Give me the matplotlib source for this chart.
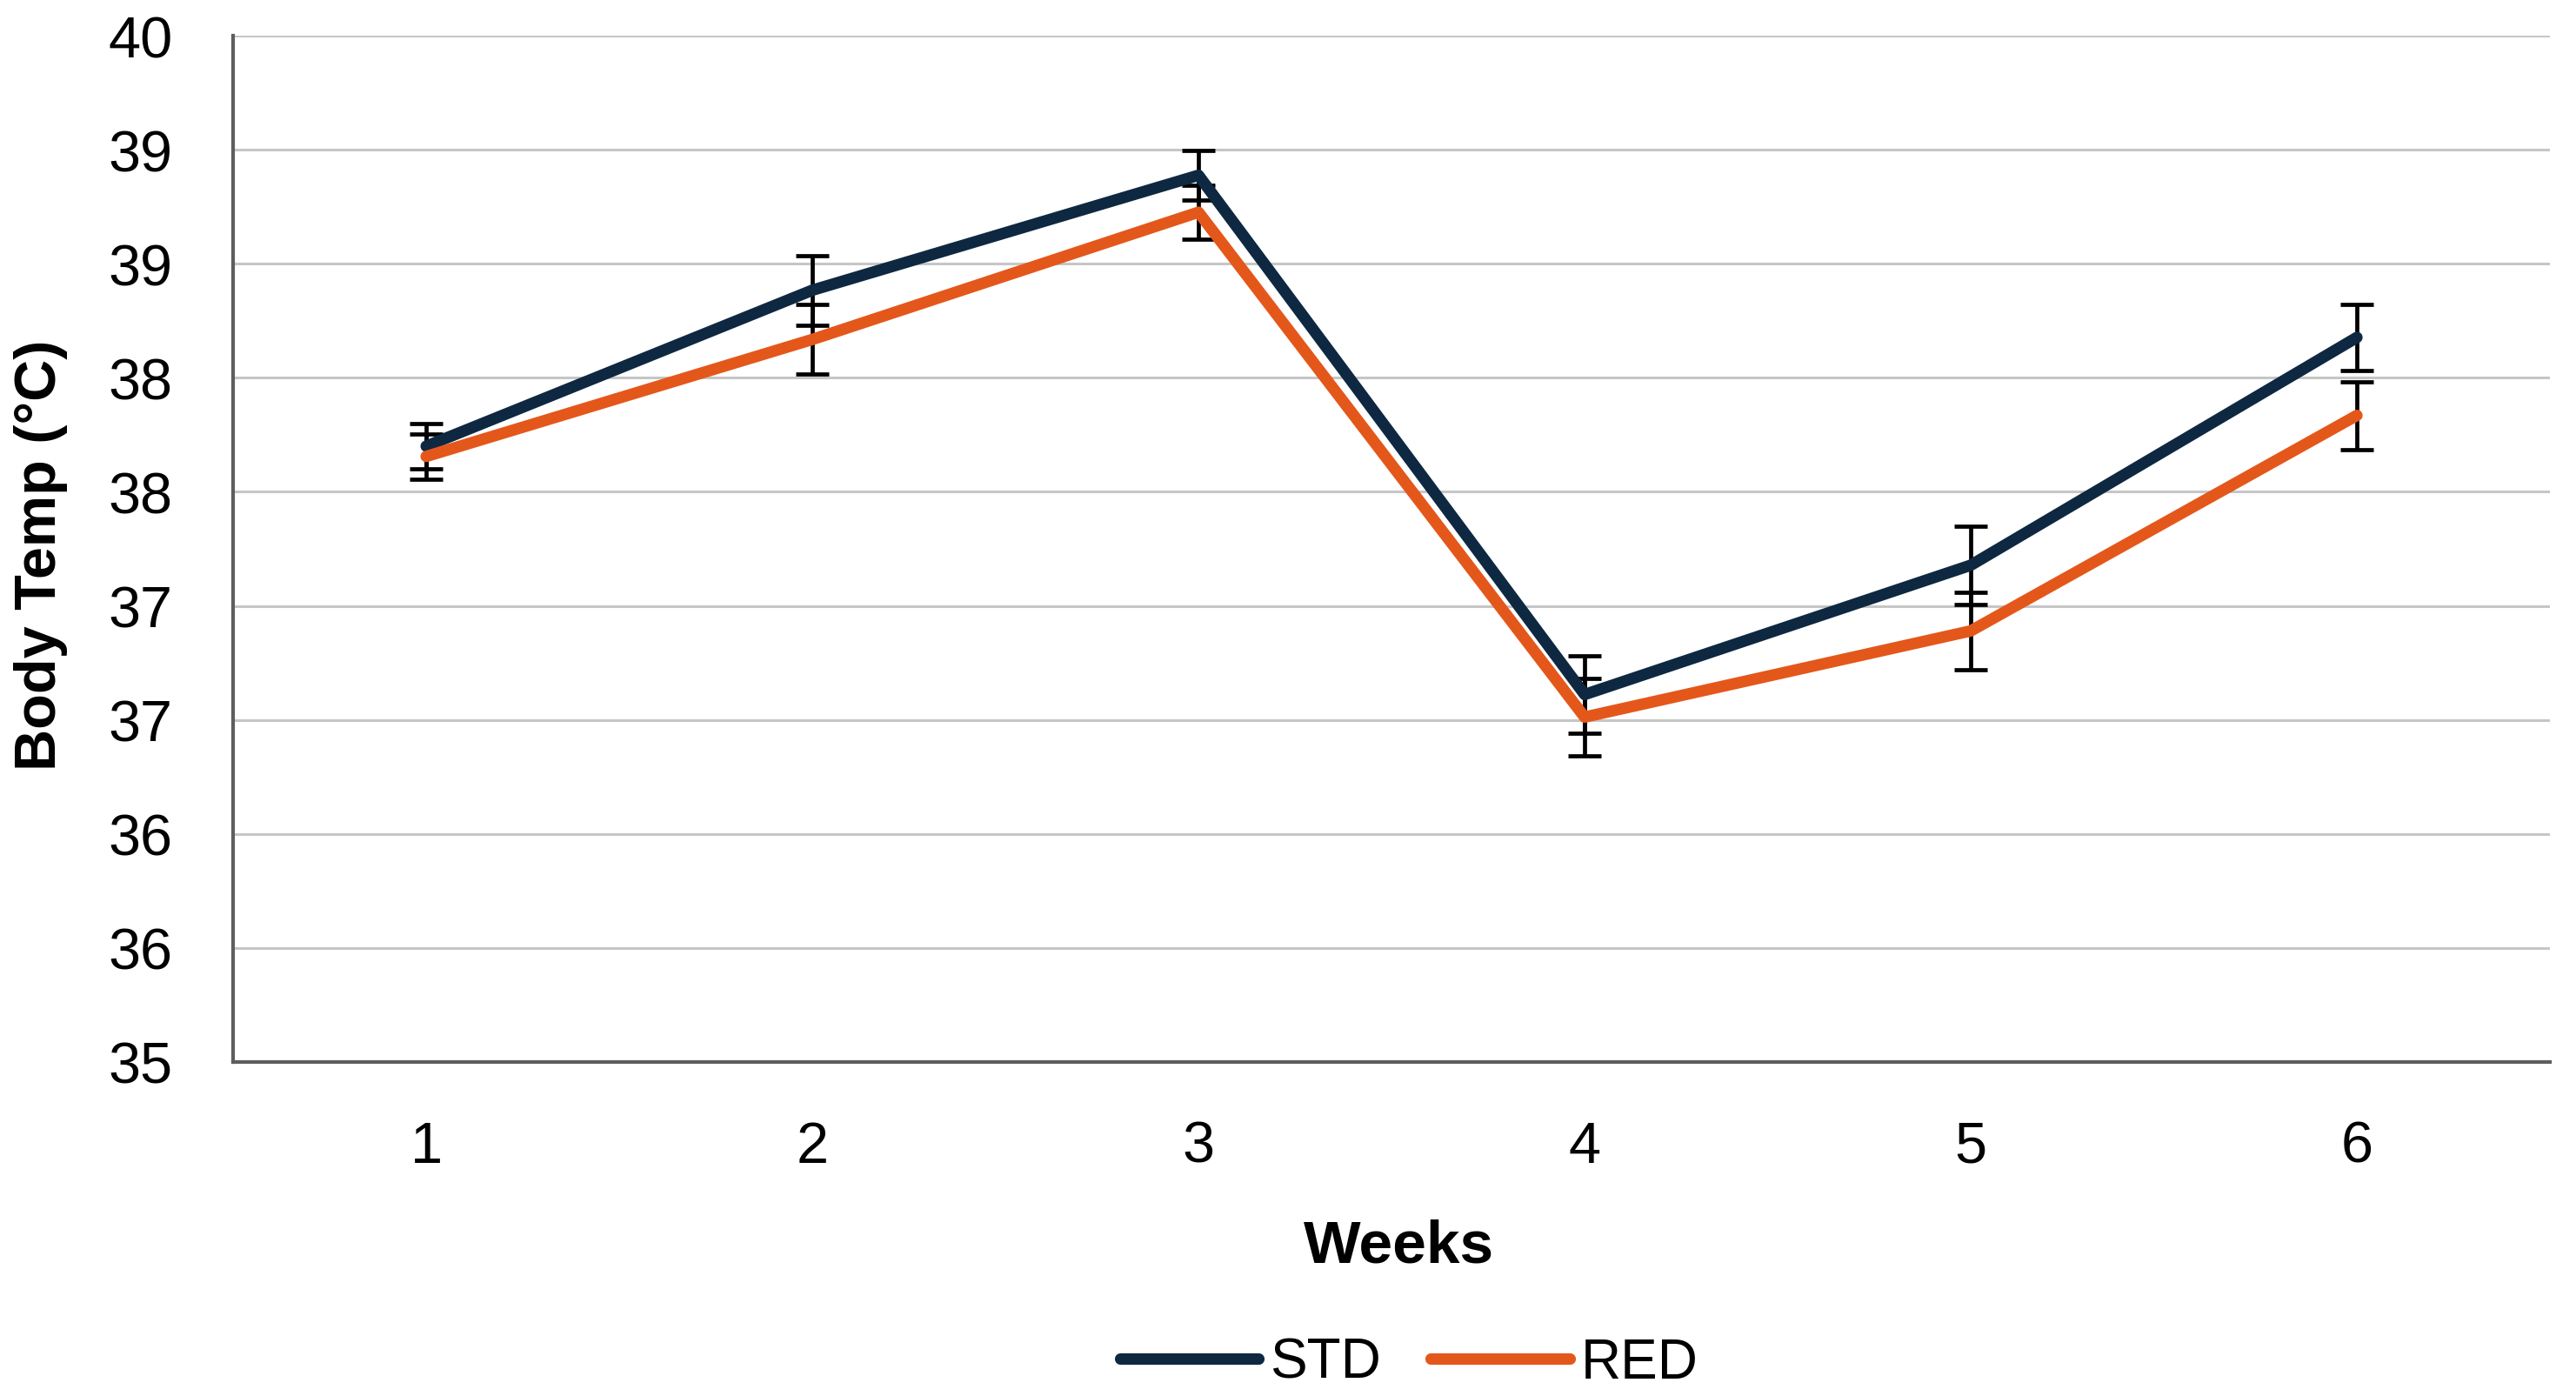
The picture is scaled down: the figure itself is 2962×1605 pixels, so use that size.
import numpy as np
import matplotlib
matplotlib.use('Agg')
from matplotlib import pyplot as plt

# values
weeks = [1, 2, 3, 4, 5, 6]
std_mean = [38.00, 38.76, 39.32, 36.79, 37.42, 38.53]
std_err = [0.11, 0.17, 0.12, 0.19, 0.19, 0.16]
red_mean = [37.95, 38.52, 39.14, 36.68, 37.10, 38.15]
red_err = [0.11, 0.17, 0.13, 0.19, 0.19, 0.165]
ytick_labels = ['35', '36', '36', '37', '37', '38', '38', '39', '39', '40']

std_color = '#0E2841'
red_color = '#E4571B'

plt.rcParams['font.family'] = ['Liberation Sans', 'DejaVu Sans']

fig = plt.figure(figsize=(29.62, 16.06), dpi=100)
ax = fig.add_axes([0.0905, 0.2392, 0.8994, 0.7346])

# error bars sit under the lines
ax.errorbar(weeks, std_mean, yerr=std_err, fmt='none', ecolor='black',
            elinewidth=3.4, capsize=13.5, capthick=3.4, zorder=2)
ax.errorbar(weeks, red_mean, yerr=red_err, fmt='none', ecolor='black',
            elinewidth=3.4, capsize=13.5, capthick=3.4, zorder=2)

ax.plot(weeks, std_mean, color=std_color, lw=9.5, label='STD',
        solid_capstyle='round', solid_joinstyle='round', zorder=3)
ax.plot(weeks, red_mean, color=red_color, lw=9.5, label='RED',
        solid_capstyle='round', solid_joinstyle='round', zorder=4)

ax.set_xlim(0.5, 6.5)
ax.set_ylim(35, 40)
yticks = np.linspace(35, 40, len(ytick_labels))
ax.set_yticks(yticks)
ax.set_yticklabels(ytick_labels)
ax.set_xticks(weeks)
ax.set_xticklabels([str(w) for w in weeks])
ax.tick_params(axis='both', length=0, labelsize=48)
ax.tick_params(axis='y', pad=50)
ax.tick_params(axis='x', pad=48)

ax.grid(axis='y', color='#C6C6C6', lw=2.2)
ax.set_axisbelow(True)
for s in ['top', 'right']:
    ax.spines[s].set_visible(False)
ax.spines['left'].set_color('#5E5E5E')
ax.spines['left'].set_linewidth(3.0)
ax.spines['bottom'].set_color('#5E5E5E')
ax.spines['bottom'].set_linewidth(3.0)

ax.set_xlabel('Weeks', fontsize=50, fontweight='bold')
ax.set_ylabel('Body Temp (°C)', fontsize=48, fontweight='bold')
ax.xaxis.label.set_va('center')
ax.yaxis.label.set_va('center')
ax.xaxis.set_label_coords(0.503, -0.1795)
ax.yaxis.set_label_coords(-0.083, 0.495)

fig.legend(loc='center', bbox_to_anchor=(0.547, 0.0237), ncol=2, frameon=False,
           fontsize=46, handlelength=2.5, handletextpad=0.2, columnspacing=0.9)

fig.savefig('out.png', dpi=100, facecolor='white')
